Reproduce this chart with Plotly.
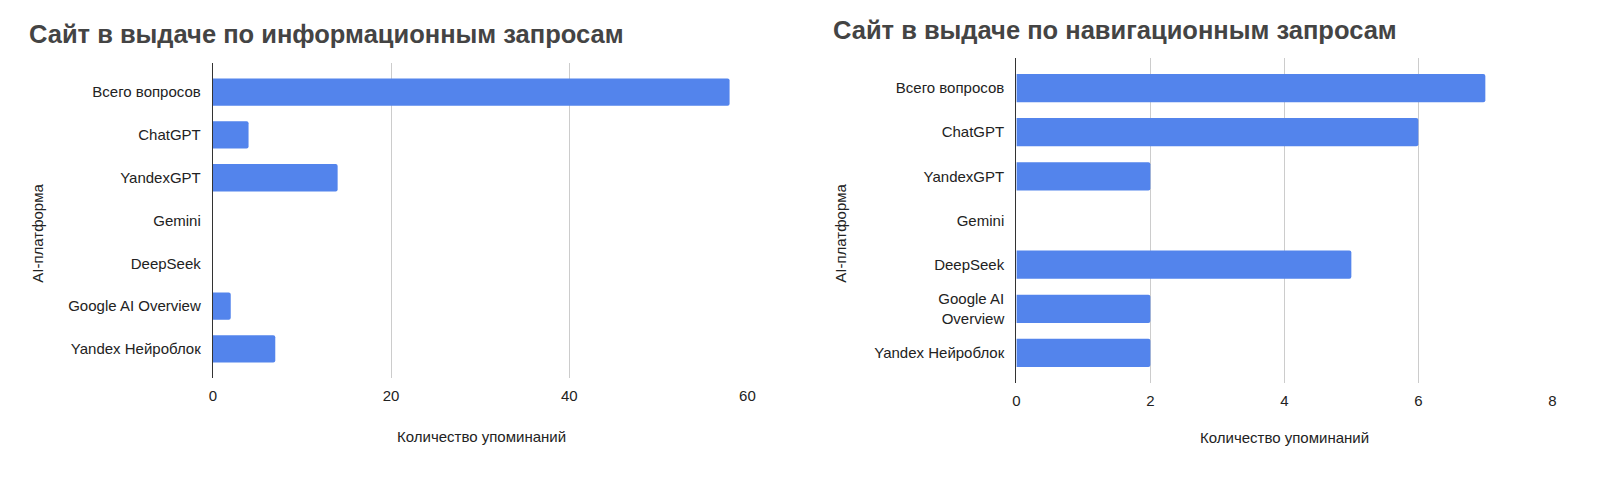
import plotly.graph_objects as go

# AI platforms (top to bottom)
platforms_info = ["Всего вопросов", "ChatGPT", "YandexGPT", "Gemini", "DeepSeek",
                  "Google AI Overview", "Yandex Нейроблок"]
platforms_nav = ["Всего вопросов", "ChatGPT", "YandexGPT", "Gemini", "DeepSeek",
                 "Google AI<br>Overview", "Yandex Нейроблок"]

# mentions per platform
mentions_info = [58, 4, 14, 0, 0, 2, 7]
mentions_nav = [7, 6, 2, 0, 5, 2, 2]

title_info = "Сайт в выдаче по информационным запросам"
title_nav = "Сайт в выдаче по навигационным запросам"
x_title = "Количество упоминаний"
y_title = "AI-платформа"

W, H = 1604, 484
BAR = "#5384ec"
FONT = "Liberation Sans, Arial, sans-serif"


def px(x):
    return x / W


def py(y):
    return 1 - y / H


fig = go.Figure()

fig.add_trace(go.Bar(
    x=mentions_info, y=platforms_info, orientation="h",
    marker=dict(color=BAR, line=dict(width=0)),
    xaxis="x", yaxis="y", hoverinfo="x+y",
))
fig.add_trace(go.Bar(
    x=mentions_nav, y=platforms_nav, orientation="h",
    marker=dict(color=BAR, line=dict(width=0)),
    xaxis="x2", yaxis="y2", hoverinfo="x+y",
))

xaxis_common = dict(
    showgrid=True, gridcolor="#cccccc", gridwidth=1, zeroline=False,
    showline=False, ticks="", tickfont=dict(size=15, color="#222222"),
    ticklabelstandoff=7,
)
yaxis_common = dict(
    type="category", showgrid=False, zeroline=False,
    showline=True, linecolor="#333333", linewidth=1.3, ticks="",
    tickfont=dict(size=15, color="#222222"), ticklabelstandoff=8,
)

annotations = [
    dict(text=f"<b>{title_info}</b>", x=px(23), y=py(34), xanchor="left", yanchor="middle",
         font=dict(size=25.5, color="#444444", family=FONT)),
    dict(text=f"<b>{title_nav}</b>", x=px(833), y=py(30), xanchor="left", yanchor="middle",
         font=dict(size=25.5, color="#444444", family=FONT)),
    dict(text=x_title, x=px(481), y=py(436), xanchor="center", yanchor="middle",
         font=dict(size=15, color="#222222", family=FONT)),
    dict(text=x_title, x=px(1290), y=py(437), xanchor="center", yanchor="middle",
         font=dict(size=15, color="#222222", family=FONT)),
    dict(text=y_title, x=px(33), y=py(233), textangle=-90, xanchor="center", yanchor="middle",
         font=dict(size=15, color="#222222", family=FONT)),
    dict(text=y_title, x=px(842), y=py(233), textangle=-90, xanchor="center", yanchor="middle",
         font=dict(size=15, color="#222222", family=FONT)),
]
for a in annotations:
    a.update(xref="paper", yref="paper", showarrow=False)

fig.update_layout(
    width=W, height=H,
    margin=dict(l=0, r=0, t=0, b=0),
    paper_bgcolor="white", plot_bgcolor="white",
    font=dict(family=FONT, color="#222222"),
    showlegend=False,
    bargap=0.36,
    barcornerradius=2,
    xaxis=dict(domain=[px(210.5), px(749)], range=[0, 60], dtick=20, anchor="y", **xaxis_common),
    yaxis=dict(domain=[py(378), py(63)], range=[6.68, -0.68], anchor="x",
               categoryorder="array", categoryarray=platforms_info, **yaxis_common),
    xaxis2=dict(domain=[px(1020), px(1560)], range=[0, 8], dtick=2, anchor="y2", **xaxis_common),
    yaxis2=dict(domain=[py(383), py(58)], range=[6.68, -0.68], anchor="x2",
                categoryorder="array", categoryarray=platforms_nav, **yaxis_common),
    annotations=annotations,
)

# the page body has a default 8px margin; drop it so the chart sits at the window corner
fig.write_html("out.html", config={"displayModeBar": False},
               post_script="document.body.style.margin='0';")
